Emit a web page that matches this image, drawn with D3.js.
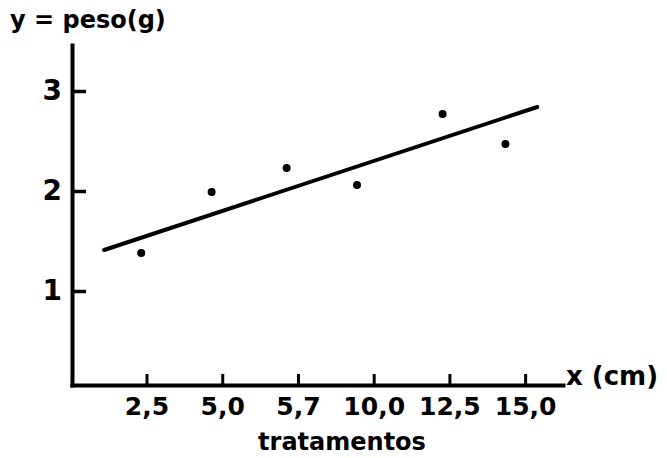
<!DOCTYPE html>
<html>
<head>
<meta charset="utf-8">
<script src="https://cdn.jsdelivr.net/npm/d3@7"></script>
<style>
  body { margin: 0; background: #fff; }
  text { font-family: "DejaVu Sans", sans-serif; font-weight: bold; fill: #000; }
</style>
</head>
<body>
<div id="grafico"></div>
<script>
// categorias do eixo x (tratamentos, em cm)
const tratamentos = ["2,5", "5,0", "5,7", "10,0", "12,5", "15,0"];
// posicao dos pontos ao longo do eixo (em unidades de tratamento)
const posicaoPontos = [-0.07, 0.86, 1.85, 2.78, 3.91, 4.74];
// peso medido (g)
const pesos = [1.38, 1.99, 2.23, 2.06, 2.77, 2.47];
// reta ajustada: extremos [posicao, peso]
const retaX = [-0.56, 5.16];
const retaY = [1.41, 2.84];
// ticks do eixo y
const yTicks = [1, 2, 3];

const width = 667, height = 458;

const svg = d3
  .select("#grafico")
  .append("svg")
  .attr("width", width)
  .attr("height", height);

// escalas
const x = d3.scaleLinear().domain([-0.984, 5.5]).range([72, 563]);
const y = d3.scaleLinear().domain([0.06, 3.46]).range([385, 45]);

// eixo x
const eixoX = svg
  .append("g")
  .attr("transform", `translate(0,${y(0.06)})`)
  .call(
    d3.axisBottom(x)
      .tickValues(d3.range(tratamentos.length))
      .tickFormat((d) => tratamentos[d])
      .tickSizeInner(-11)
      .tickSizeOuter(0)
      .tickPadding(12)
  );
eixoX.select(".domain").attr("stroke-width", 4).attr("stroke-linecap", "square");
eixoX.selectAll(".tick line").attr("stroke-width", 3);
eixoX.selectAll(".tick text").attr("font-size", 25).attr("font-family", null);

// eixo y
const eixoY = svg
  .append("g")
  .attr("transform", `translate(${x(-0.984)},0)`)
  .call(
    d3.axisLeft(y)
      .tickValues(yTicks)
      .tickFormat(d3.format("d"))
      .tickSizeInner(-14)
      .tickSizeOuter(0)
      .tickPadding(10)
  );
eixoY.select(".domain").attr("stroke-width", 4).attr("stroke-linecap", "square");
eixoY.selectAll(".tick line").attr("stroke-width", 3.5);
eixoY.selectAll(".tick text").attr("font-size", 28).attr("font-family", null);

// reta de regressao
svg
  .append("line")
  .attr("x1", x(retaX[0]))
  .attr("y1", y(retaY[0]))
  .attr("x2", x(retaX[1]))
  .attr("y2", y(retaY[1]))
  .attr("stroke", "#000")
  .attr("stroke-width", 4)
  .attr("stroke-linecap", "round");

// pontos
svg
  .selectAll("circle")
  .data(pesos)
  .join("circle")
  .attr("cx", (d, i) => x(posicaoPontos[i]))
  .attr("cy", (d) => y(d))
  .attr("r", 4)
  .attr("fill", "#000");

// rotulos
svg.append("text").attr("x", 10).attr("y", 28).attr("font-size", 24).text("y = peso(g)");
svg.append("text").attr("x", 566).attr("y", 385).attr("font-size", 26).text("x (cm)");
svg
  .append("text")
  .attr("x", 342)
  .attr("y", 450)
  .attr("text-anchor", "middle")
  .attr("font-size", 24)
  .text("tratamentos");
</script>
</body>
</html>
